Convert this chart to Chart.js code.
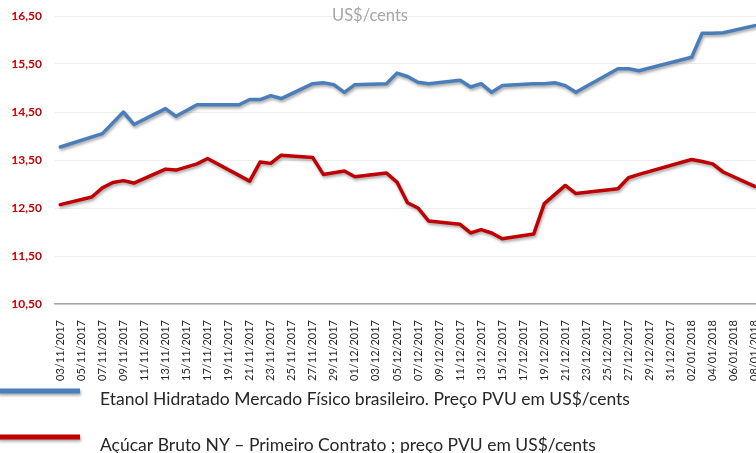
<!DOCTYPE html>
<html>
<head>
<meta charset="utf-8">
<script src="https://cdn.jsdelivr.net/npm/chart.js@4.4.1/dist/chart.umd.min.js"></script>
<style>
  html, body { margin: 0; padding: 0; overflow: hidden; background: #fff; }
  #wrap { width: 766px; height: 453px; position: relative; }
</style>
</head>
<body>
<div id="wrap"><canvas id="c"></canvas></div>
<script>
const dates = [
  "03/11/2017","04/11/2017","05/11/2017","06/11/2017","07/11/2017","08/11/2017","09/11/2017","10/11/2017",
  "11/11/2017","12/11/2017","13/11/2017","14/11/2017","15/11/2017","16/11/2017","17/11/2017","18/11/2017",
  "19/11/2017","20/11/2017","21/11/2017","22/11/2017","23/11/2017","24/11/2017","25/11/2017","26/11/2017",
  "27/11/2017","28/11/2017","29/11/2017","30/11/2017","01/12/2017","02/12/2017","03/12/2017","04/12/2017",
  "05/12/2017","06/12/2017","07/12/2017","08/12/2017","09/12/2017","10/12/2017","11/12/2017","12/12/2017",
  "13/12/2017","14/12/2017","15/12/2017","16/12/2017","17/12/2017","18/12/2017","19/12/2017","20/12/2017",
  "21/12/2017","22/12/2017","23/12/2017","24/12/2017","25/12/2017","26/12/2017","27/12/2017","28/12/2017",
  "29/12/2017","30/12/2017","31/12/2017","01/01/2018","02/01/2018","03/01/2018","04/01/2018","05/01/2018",
  "06/01/2018","07/01/2018","08/01/2018"
];

const etanol = [
  13.77, null, null, null, 14.05, null, 14.50, 14.24,
  null, null, 14.57, 14.41, null, 14.65, 14.65, null,
  null, 14.65, 14.76, 14.76, 14.84, 14.78, null, null,
  15.09, 15.11, 15.07, 14.91, 15.07, null, null, 15.09,
  15.31, 15.24, 15.12, 15.09, null, null, 15.16, 15.02,
  15.09, 14.91, 15.05, null, null, 15.09, 15.09, 15.11,
  15.05, 14.91, null, null, null, 15.40, 15.40, 15.36,
  null, null, null, null, 15.64, 16.14, 16.14, 16.15,
  null, null, 16.30
];

const acucar = [
  12.57, null, null, 12.73, 12.92, 13.03, 13.07, 13.02,
  null, null, 13.31, 13.29, null, 13.42, 13.53, null,
  null, null, 13.06, 13.46, 13.43, 13.60, null, null,
  13.55, 13.20, null, 13.27, 13.15, null, null, 13.23,
  13.04, 12.61, 12.50, 12.23, null, null, 12.16, 11.98,
  12.05, 11.98, 11.86, null, null, 11.96, 12.59, null,
  12.97, 12.80, null, null, null, 12.90, 13.13, 13.20,
  null, null, null, null, 13.51, 13.47, 13.42, 13.25,
  null, null, 12.95
];

const seriesNames = [
  "Etanol Hidratado Mercado Físico brasileiro. Preço PVU em US$/cents",
  "Açúcar Bruto NY – Primeiro Contrato ; preço PVU em US$/cents"
];
const seriesColors = ["#4a7ebb", "#c00000"];
const unitTitle = "US$/cents";
const yMin = 10.5, yMax = 16.5, yStep = 1;

const shadowPlugin = {
  id: 'shadow',
  beforeDatasetsDraw(chart) {
    const ctx = chart.ctx;
    ctx.save();
    ctx.shadowColor = 'rgba(0,0,0,0.35)';
    ctx.shadowBlur = 3;
    ctx.shadowOffsetX = 1;
    ctx.shadowOffsetY = 2;
  },
  afterDatasetsDraw(chart) { chart.ctx.restore(); }
};

const customLegend = {
  id: 'customLegend',
  afterDraw(chart) {
    const ctx = chart.ctx;
    const rows = [391, 437];
    chart.data.datasets.forEach((ds, i) => {
      const y = rows[i];
      ctx.save();
      ctx.shadowColor = 'rgba(0,0,0,0.35)';
      ctx.shadowBlur = 3;
      ctx.shadowOffsetX = 1;
      ctx.shadowOffsetY = 2;
      ctx.strokeStyle = ds.borderColor;
      ctx.lineWidth = 5;
      ctx.beginPath();
      ctx.moveTo(-2, y);
      ctx.lineTo(80, y);
      ctx.stroke();
      ctx.restore();
      ctx.save();
      ctx.fillStyle = '#262626';
      ctx.font = '17.5px Lato';
      ctx.textBaseline = 'middle';
      ctx.textAlign = 'left';
      ctx.fillText(ds.label, 100, y + 8);
      ctx.restore();
    });
  }
};

const titlePlugin = {
  id: 'unitTitle',
  afterDraw(chart) {
    const ctx = chart.ctx;
    ctx.save();
    ctx.fillStyle = '#a6a6a6';
    ctx.font = '16.5px Lato';
    ctx.textAlign = 'center';
    ctx.textBaseline = 'alphabetic';
    ctx.fillText(unitTitle, 370, 21);
    ctx.restore();
  }
};

new Chart(document.getElementById('c'), {
  type: 'line',
  data: {
    labels: dates,
    datasets: [
      { label: seriesNames[0], data: etanol, borderColor: seriesColors[0], backgroundColor: seriesColors[0] },
      { label: seriesNames[1], data: acucar, borderColor: seriesColors[1], backgroundColor: seriesColors[1] }
    ]
  },
  options: {
    responsive: true,
    maintainAspectRatio: false,
    animation: false,
    spanGaps: true,
    layout: { padding: { top: 16, left: 0, right: 6, bottom: 0 } },
    elements: {
      line: { tension: 0, borderWidth: 3.5, borderJoinStyle: 'round', borderCapStyle: 'round', fill: false },
      point: { radius: 0, hoverRadius: 0 }
    },
    plugins: {
      legend: { display: false },
      tooltip: { enabled: false },
      title: { display: false }
    },
    scales: {
      x: {
        type: 'category',
        offset: true,
        grid: { display: false, drawTicks: false },
        border: { display: true, color: '#a6a6a6', width: 1.5 },
        ticks: {
          autoSkip: false,
          maxRotation: 90,
          minRotation: 90,
          padding: 16,
          color: '#262626',
          font: { family: 'Lato', size: 11 },
          callback: function(v, i) { return i % 2 === 0 ? this.getLabelForValue(v) : ''; }
        },
        afterFit(scale) {
          scale.height = 453 - 304;
          scale.paddingLeft = 0;
          scale.paddingRight = 0;
        }
      },
      y: {
        min: yMin,
        max: yMax,
        grid: { color: '#eeeeee', drawTicks: false, lineWidth: 1 },
        border: { display: false },
        ticks: {
          stepSize: yStep,
          padding: 13,
          color: '#c00000',
          font: { family: 'Lato', size: 12, weight: 'bold' },
          callback: (v) => v.toFixed(2).replace('.', ',')
        },
        afterFit(scale) {
          scale.width = 55;
          scale.paddingTop = 0;
          scale.paddingBottom = 0;
        }
      }
    }
  },
  plugins: [shadowPlugin, customLegend, titlePlugin]
});
</script>
</body>
</html>
